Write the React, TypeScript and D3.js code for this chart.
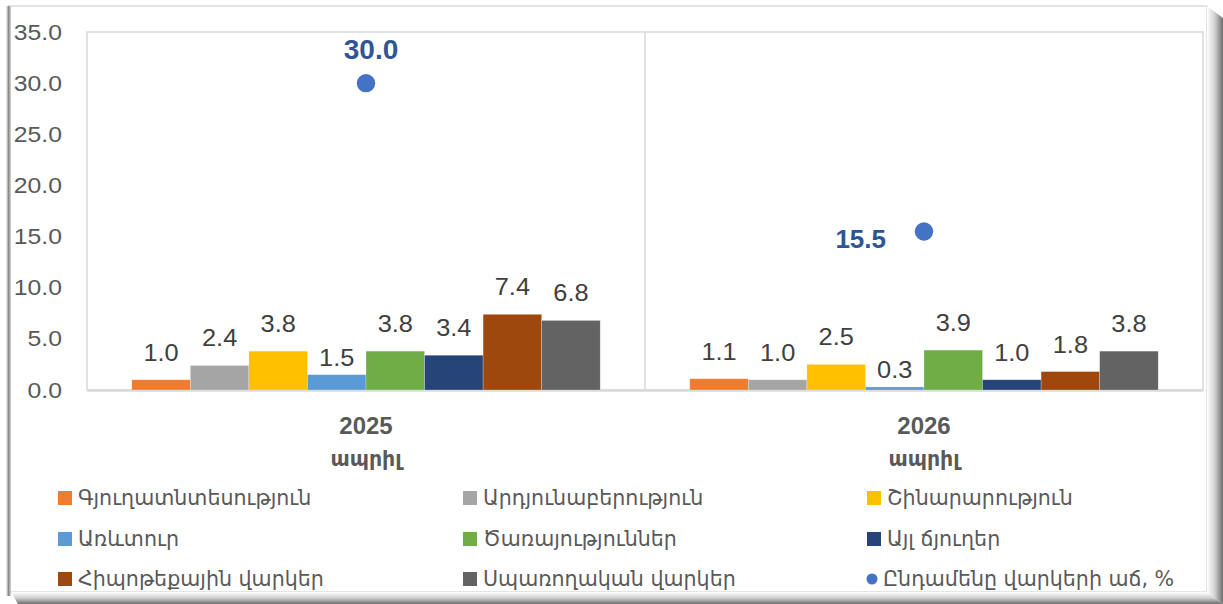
import React from "react";
import * as d3 from "d3";

const categories = ["2025", "2026"];
const categoryMonth = ["ապրիլ", "ապրիլ"];
const seriesNames = [
  "Գյուղատնտեսություն",
  "Արդյունաբերություն",
  "Շինարարություն",
  "Առևտուր",
  "Ծառայություններ",
  "Այլ ճյուղեր",
  "Հիպոթեքային վարկեր",
  "Սպառողական վարկեր",
];
const agriculture = [1.0, 1.1];
const industry = [2.4, 1.0];
const construction = [3.8, 2.5];
const trade = [1.5, 0.3];
const services = [3.8, 3.9];
const otherBranches = [3.4, 1.0];
const mortgage = [7.4, 1.8];
const consumer = [6.8, 3.8];
const totalGrowthName = "Ընդամենը վարկերի աճ, %";
const totalGrowth = [30.0, 15.5];
const yTicks = [0, 5, 10, 15, 20, 25, 30, 35];

const seriesValues = [agriculture, industry, construction, trade, services, otherBranches, mortgage, consumer];
const colors = ["#ED7D31", "#A5A5A5", "#FFC000", "#5B9BD5", "#70AD47", "#264478", "#9E480E", "#636363"];
const labelGaps = [19, 19, 19, 9, 19, 19, 19, 19];

const W = 1223;
const H = 604;
const plot = { left: 87, right: 1203, top: 32, bottom: 390 };
const numFont = "'Liberation Sans', Arial, sans-serif";
const armFont = "'DejaVu Sans', sans-serif";

export default function App() {
  const y = d3.scaleLinear().domain([0, 35]).range([plot.bottom, plot.top]);
  const x0 = d3.scaleBand<string>().domain(categories).range([plot.left, plot.right]).paddingInner(0).paddingOuter(0);
  const x1 = d3
    .scaleBand<string>()
    .domain(seriesNames)
    .range([0, x0.bandwidth()])
    .paddingInner(0)
    .paddingOuter(0.765);

  const legendItems = [...seriesNames.map((n, i) => ({ name: n, color: colors[i], circle: false })), { name: totalGrowthName, color: "#4472C4", circle: true }];
  const legendCols = [58, 463, 867];
  const legendRows = [498, 539, 579];

  return (
    <svg width={W} height={H} style={{ position: "absolute", left: 0, top: 0, display: "block" }}>
      <defs>
        <linearGradient id="shR" x1="0" x2="1" y1="0" y2="0">
          <stop offset="0" stopColor="#ffffff" />
          <stop offset="0.5" stopColor="#cfcfcf" />
          <stop offset="1" stopColor="#6e6e6e" />
        </linearGradient>
        <linearGradient id="shB" x1="0" x2="0" y1="0" y2="1">
          <stop offset="0" stopColor="#ffffff" />
          <stop offset="0.5" stopColor="#cfcfcf" />
          <stop offset="1" stopColor="#6e6e6e" />
        </linearGradient>
        <linearGradient id="shL" x1="0" x2="1" y1="0" y2="0">
          <stop offset="0" stopColor="#ffffff" />
          <stop offset="0.5" stopColor="#8a8a8a" />
          <stop offset="1" stopColor="#d8d8d8" />
        </linearGradient>
      </defs>
      <rect x={0} y={0} width={W} height={H} fill="#ffffff" />
      {/* frame */}
      <rect x={9} y={6} width={1198} height={586} fill="#ffffff" stroke="#dcdcdc" strokeWidth={1.5} />
      <rect x={6} y={6} width={5} height={590} fill="url(#shL)" />
      <polygon points="1207,6 1223,18 1223,604 1207,592" fill="url(#shR)" />
      <polygon points="11,592 1207,592 1223,604 18,604" fill="url(#shB)" />

      {/* plot area */}
      <rect x={plot.left} y={plot.top} width={plot.right - plot.left} height={plot.bottom - plot.top} fill="none" stroke="#d9d9d9" strokeWidth={1.5} />
      <line x1={x0(categories[1])} x2={x0(categories[1])} y1={plot.top} y2={plot.bottom} stroke="#d9d9d9" strokeWidth={1.5} />
      <line x1={plot.left} x2={plot.right} y1={plot.bottom + 0.5} y2={plot.bottom + 0.5} stroke="#d9d9d9" strokeWidth={2.5} />

      {/* y ticks */}
      {yTicks.map((t) => (
        <text
          key={t}
          transform={`translate(62,${y(t)}) scale(1.1,1)`}
          textAnchor="end"
          dominantBaseline="central"
          fontFamily={numFont}
          fontSize={22.5}
          fill="#595959"
        >
          {t.toFixed(1)}
        </text>
      ))}

      {/* bars */}
      {categories.map((c, ci) => (
        <g key={c}>
          {seriesNames.map((s, si) => {
            const v = seriesValues[si][ci];
            const bx = (x0(c) ?? 0) + (x1(s) ?? 0);
            const by = y(v);
            return (
              <g key={s}>
                <rect x={bx} y={by} width={x1.bandwidth()} height={plot.bottom - by} fill={colors[si]} stroke="#ffffff" strokeOpacity={0.4} strokeWidth={0.6} />
                <text
                  transform={`translate(${bx + x1.bandwidth() / 2},${by - labelGaps[si]}) scale(1.08,1)`}
                  textAnchor="middle"
                  fontFamily={numFont}
                  fontSize={23.5}
                  fill="#404040"
                >
                  {v.toFixed(1)}
                </text>
              </g>
            );
          })}
          <text x={(x0(c) ?? 0) + x0.bandwidth() / 2} y={434} textAnchor="middle" fontFamily={numFont} fontWeight="bold" fontSize={24} fill="#595959">
            {c}
          </text>
          <text x={(x0(c) ?? 0) + x0.bandwidth() / 2} y={466} textAnchor="middle" fontFamily={armFont} fontWeight="bold" fontSize={20.5} fill="#595959">
            {categoryMonth[ci]}
          </text>
        </g>
      ))}

      {/* total growth points */}
      {categories.map((c, ci) => {
        const cx = (x0(c) ?? 0) + x0.bandwidth() / 2;
        const cy = y(totalGrowth[ci]);
        return (
          <g key={"p" + c}>
            <circle cx={cx} cy={cy} r={9.2} fill="#4472C4" />
            {ci === 0 ? (
              <text x={cx + 5} y={cy - 24} textAnchor="middle" fontFamily={numFont} fontWeight="bold" fontSize={28} fill="#2F5597">
                {totalGrowth[ci].toFixed(1)}
              </text>
            ) : (
              <text x={cx - 38} y={cy + 17} textAnchor="end" fontFamily={numFont} fontWeight="bold" fontSize={26} fill="#2F5597">
                {totalGrowth[ci].toFixed(1)}
              </text>
            )}
          </g>
        );
      })}

      {/* legend */}
      {legendItems.map((it, i) => {
        const lx = legendCols[i % 3];
        const ly = legendRows[Math.floor(i / 3)];
        return (
          <g key={it.name}>
            {it.circle ? (
              <circle cx={lx + 5} cy={ly} r={5.5} fill={it.color} />
            ) : (
              <rect x={lx} y={ly - 7} width={14} height={14} fill={it.color} />
            )}
            <text x={lx + (it.circle ? 16 : 20)} y={ly} dominantBaseline="central" fontFamily={armFont} fontSize={20.6} fill="#595959">
              {it.name}
            </text>
          </g>
        );
      })}
    </svg>
  );
}
